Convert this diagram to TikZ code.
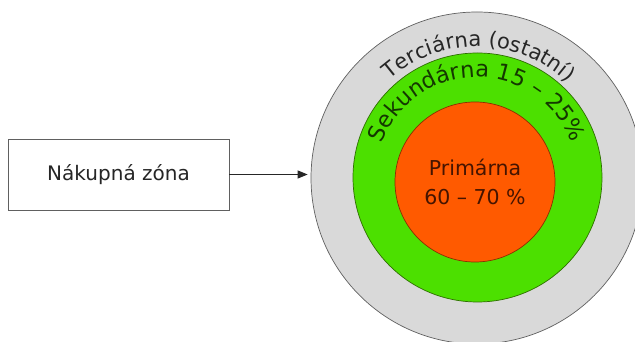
\documentclass[tikz,border=0pt]{standalone}
\usepackage{fontspec}
\setmainfont{DejaVu Sans}
\usetikzlibrary{arrows.meta,decorations.text,calc}
\definecolor{ringgray}{HTML}{D9D9D9}
\definecolor{ringgreen}{HTML}{4CE000}
\definecolor{ringorange}{HTML}{FF5A00}
\definecolor{grayline}{HTML}{606060}
\definecolor{greenline}{HTML}{2E6E00}
\definecolor{orangeline}{HTML}{8A3000}
\definecolor{graytext}{HTML}{262626}
\definecolor{greentext}{HTML}{143800}
\definecolor{orangetext}{HTML}{451400}
\tikzset{
  zone/.style={circle, inner sep=0pt, line width=0.7pt},
  labelbox/.style={draw=grayline, line width=0.7pt, fill=white, minimum width=221pt, minimum height=71pt, inner sep=0pt, font=\fontsize{20}{24}\selectfont, text=graytext},
  connector/.style={line width=1pt, draw=graytext, -{Triangle[length=10pt,width=8pt]}, shorten >=3pt}
}
\begin{document}
\begin{tikzpicture}[x=1pt,y=1pt]
\clip (0,0) rectangle (635,342);
\fill[white] (0,0) rectangle (635,342);
\coordinate (c) at (477,164);
\node[zone, draw=grayline, fill=ringgray, minimum size=332pt] (outer) at (c) {};
\node[zone, draw=greenline, fill=ringgreen, minimum size=249pt] (middle) at (477.5,164.5) {};
\node[zone, draw=orangeline, fill=ringorange, minimum size=160pt, align=center, text=orangetext, font=\fontsize{20.5}{29}\selectfont] (inner) at (475,160) {Primárna\\60 – 70 {\%}};
\path[decorate, decoration={text along path, text align=center,
  text={|\fontsize{21}{21}\selectfont\color{graytext}|Terciárna (ostatní)}}]
  ($(c)+(149:131.5)$) arc[start angle=149, end angle=29, radius=131.5];
\path[decorate, decoration={text along path, text align=center,
  text={|\fontsize{22.5}{22.5}\selectfont\color{greentext}|Sekundárna 15 – 25{\%}}}]
  ($(c)+(175:101)$) arc[start angle=175, end angle=5, radius=101];
\node[labelbox] (box) at (118.5,167.5) {Nákupná zóna};
\draw[connector] (box.east) -- (box.east -| outer.west);
\end{tikzpicture}
\end{document}
